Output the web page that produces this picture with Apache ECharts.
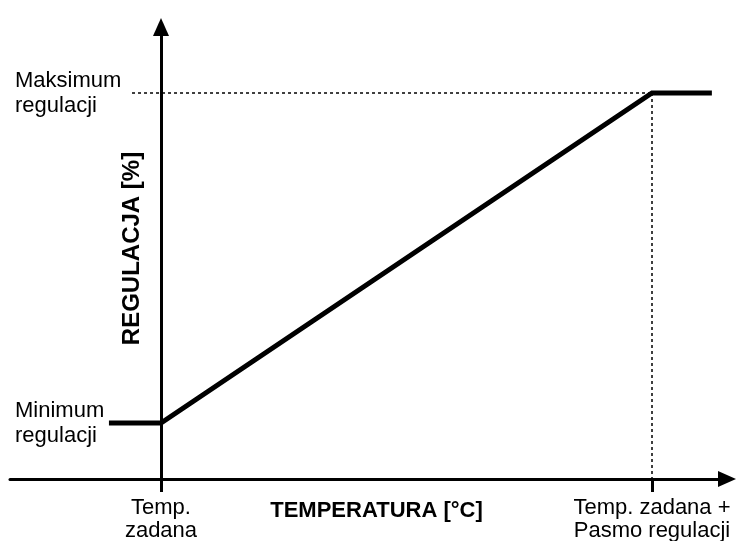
<!DOCTYPE html>
<html>
<head>
<meta charset="utf-8">
<script src="https://cdn.jsdelivr.net/npm/echarts@6/dist/echarts.min.js"></script>
<style>
  html, body { margin: 0; padding: 0; background: #fff; }
  #chart { width: 736px; height: 541px; }
</style>
</head>
<body>
<div id="chart"></div>
<script>
// temperature as % of the control band (0 = setpoint, 100 = setpoint + band)
const tempPoints = [-10.6, 0, 100, 112.2];
// regulation level as % between minimum (0) and maximum (100)
const regulation = [0, 0, 100, 100];

const xTickValues = [0, 100];
const xTickLabels = ['Temp.\nzadana', 'Temp. zadana +\nPasmo regulacji'];
const yTickValues = [0, 100];
const yTickLabels = ['Minimum\nregulacji', 'Maksimum\nregulacji'];

const xMin = -30.75, xMax = 115.28;
const yMin = -16.97, yMax = 120;

function renderChart() {
    const dom = document.getElementById('chart');
    const myChart = echarts.init(dom, null, { renderer: 'canvas' });
    const font = "'Liberation Sans', Arial, sans-serif";
    const option = {
        backgroundColor: '#fff',
        animation: false,
        grid: { left: 10, right: 9, top: 27, bottom: 62, containLabel: false, outerBoundsMode: 'none' },
        xAxis: {
            type: 'value',
            min: xMin,
            max: xMax,
            name: 'TEMPERATURA [°C]',
            nameLocation: 'middle',
            nameGap: 21,
            nameMoveOverlap: false,
            nameTextStyle: { color: '#000', fontFamily: font, fontSize: 22, fontWeight: 'bold', padding: [0, 0, 0, 16] },
            axisLine: {
                onZero: false,
                symbol: ['none', 'triangle'],
                symbolSize: [16, 18],
                lineStyle: { color: '#000', width: 3 }
            },
            axisTick: { show: true, customValues: xTickValues, length: 13, lineStyle: { color: '#000', width: 3 } },
            axisLabel: {
                customValues: xTickValues,
                formatter: v => xTickLabels[xTickValues.indexOf(v)] || '',
                color: '#000', fontFamily: font, fontSize: 22, lineHeight: 23, margin: 17, align: 'center'
            },
            splitLine: { show: false }
        },
        yAxis: {
            type: 'value',
            position: 'left',
            offset: -151,
            min: yMin,
            max: yMax,
            name: 'REGULACJA [%]',
            nameLocation: 'middle',
            nameRotate: 90,
            nameGap: 17,
            nameMoveOverlap: false,
            nameTextStyle: { color: '#000', fontFamily: font, fontSize: 24, fontWeight: 'bold', padding: [0, 0, 0, 9] },
            axisLine: {
                onZero: false,
                symbol: ['none', 'triangle'],
                symbolSize: [16, 18],
                lineStyle: { color: '#000', width: 3 }
            },
            axisTick: { show: false },
            axisLabel: {
                customValues: yTickValues,
                formatter: v => yTickLabels[yTickValues.indexOf(v)] || '',
                color: '#000', fontFamily: font, fontSize: 22, lineHeight: 25, margin: 146, align: 'left'
            },
            splitLine: { show: false }
        },
        series: [{
            type: 'line',
            data: tempPoints.map((t, i) => [t, regulation[i]]),
            showSymbol: false,
            lineStyle: { color: '#000', width: 5, join: 'miter' },
            z: 5,
            markLine: {
                silent: true,
                symbol: 'none',
                label: { show: false },
                lineStyle: { color: '#000', width: 1.5, type: [3, 3] },
                data: [
                    [{ coord: [-5.9, 100] }, { coord: [100, 100] }],
                    [{ coord: [100, 100] }, { coord: [100, yMin] }]
                ]
            }
        }]
    };
    myChart.setOption(option);
    window.addEventListener('resize', () => myChart.resize());
}

renderChart();
</script>
</body>
</html>
